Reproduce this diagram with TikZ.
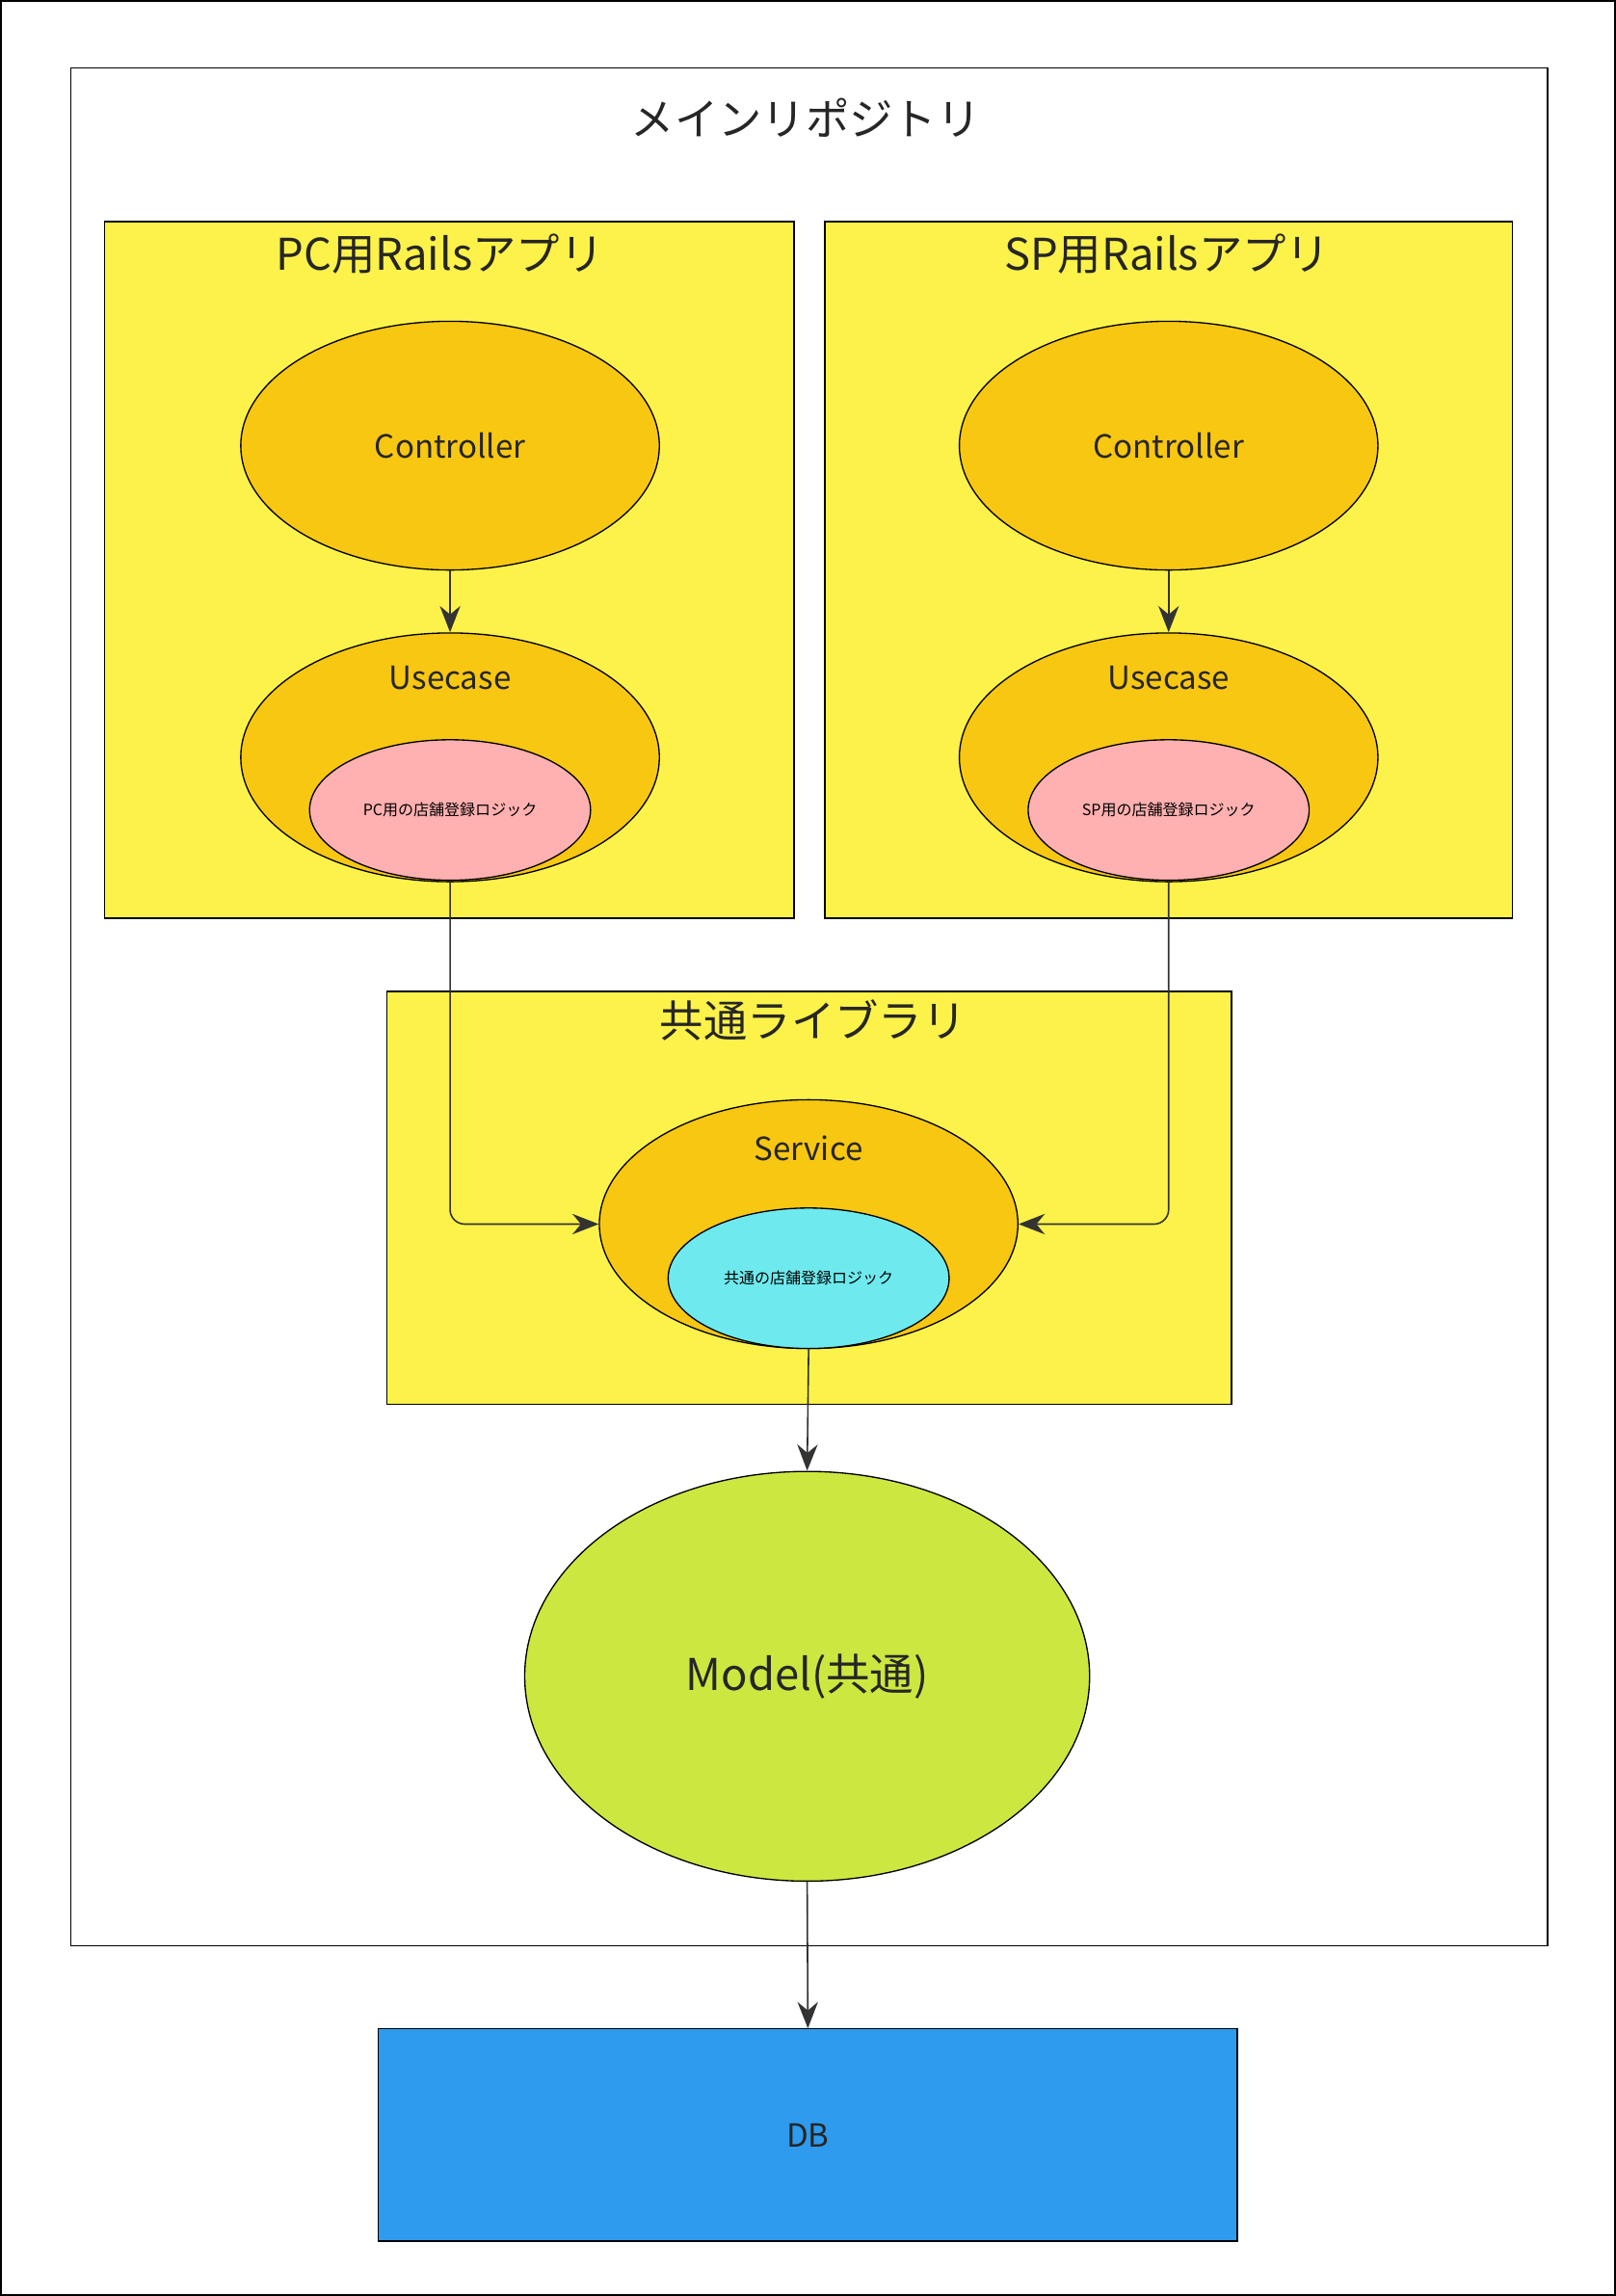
\documentclass[tikz,border=0pt]{standalone}
\usepackage{fontspec}
\setmainfont{Noto Sans CJK JP}
\usetikzlibrary{shapes.geometric,arrows.meta}
\definecolor{appyellow}{HTML}{FDF24A}
\definecolor{layerorange}{HTML}{F8C712}
\definecolor{logicpink}{HTML}{FFB0B0}
\definecolor{logiccyan}{HTML}{6EEAEE}
\definecolor{modelgreen}{HTML}{CDE741}
\definecolor{dbblue}{HTML}{2E9BEE}
\definecolor{linegray}{HTML}{333333}
\begin{document}
\begin{tikzpicture}[x=0.1mm,y=-0.1mm,
    box/.style={draw,fill=appyellow,line width=0.25pt},
    layer/.style={draw,ellipse,fill=layerorange,inner sep=0pt,
      minimum width=28.6mm,minimum height=17mm,line width=0.25pt},
    logic/.style={draw,ellipse,inner sep=0pt,minimum width=19.2mm,
      minimum height=9.6mm,font=\fontsize{3}{4}\selectfont,line width=0.25pt},
    ttl/.style={font=\fontsize{8.5}{10}\selectfont,text=black!85},
    lbl/.style={font=\fontsize{6.2}{8}\selectfont,text=black!85},
    arw/.style={draw=linegray,line width=0.3pt,-{Stealth[length=1.8mm,width=1.4mm]},
      rounded corners=1mm} ]
  \draw[line width=0.3pt] (0,0) rectangle (1103,1568);
  \draw[line width=0.25pt] (48,46) rectangle (1057,1329);
  \node[ttl] (RepoTitle) at (550,80) {メインリポジトリ};
  % apps
  \draw[box] (71,151) rectangle (542,627);
  \draw[box] (563,151) rectangle (1033,627);
  \node[ttl] (PcTitle) at (300,173) {PC用Railsアプリ};
  \node[ttl] (SpTitle) at (797,173) {SP用Railsアプリ};
  \node[layer,lbl] (PcCtrl) at (307,304) {Controller};
  \node[layer] (PcUse) at (307,517) {};
  \node[lbl] at (307,463) {Usecase};
  \node[logic,fill=logicpink] (PcLogic) at (307,553) {PC用の店舗登録ロジック};
  \node[layer,lbl] (SpCtrl) at (798,304) {Controller};
  \node[layer] (SpUse) at (798,517) {};
  \node[lbl] at (798,463) {Usecase};
  \node[logic,fill=logicpink] (SpLogic) at (798,553) {SP用の店舗登録ロジック};
  % common library
  \draw[box] (264,677) rectangle (841,959);
  \node[ttl] (LibTitle) at (555,697) {共通ライブラリ};
  \node[layer] (Service) at (552,836) {};
  \node[lbl] at (552,784) {Service};
  \node[logic,fill=logiccyan] (CommonLogic) at (552,873) {共通の店舗登録ロジック};
  \node[draw,ellipse,fill=modelgreen,inner sep=0pt,minimum width=38.6mm,
    minimum height=28mm,ttl,line width=0.25pt] (Model) at (551,1145) {Model(共通)};
  \node[draw,fill=dbblue,minimum width=58.7mm,minimum height=14.5mm,lbl,
    line width=0.25pt] (DB) at (551.5,1458.5) {DB};
  \draw[arw] (PcCtrl) -- (PcUse);
  \draw[arw] (SpCtrl) -- (SpUse);
  \draw[arw] (PcLogic.south) |- (Service.west);
  \draw[arw] (SpLogic.south) |- (Service.east);
  \draw[arw] (CommonLogic.south) -- (Model.north);
  \draw[arw] (Model.south) -- (DB.north);
\end{tikzpicture}
\end{document}
